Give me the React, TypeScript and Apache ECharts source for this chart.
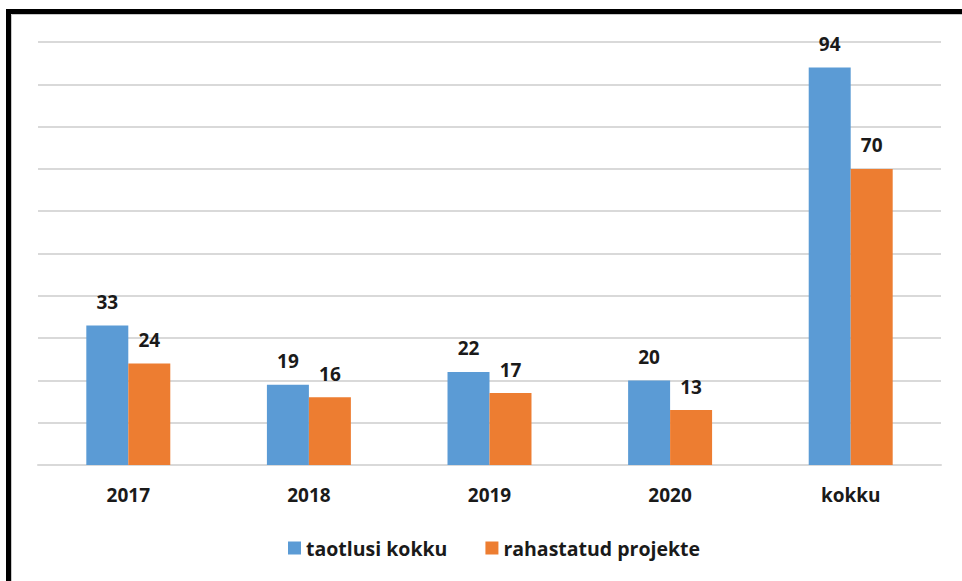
import React, { useEffect, useRef } from "react";
import * as echarts from "echarts";

const categories = ["2017", "2018", "2019", "2020", "kokku"];
const seriesNames = ["taotlusi kokku", "rahastatud projekte"];
const applications = [33, 19, 22, 20, 94];
const funded = [24, 16, 17, 13, 70];

const FONT = "'Open Sans', 'Noto Sans', sans-serif";

export default function App() {
  const ref = useRef<HTMLDivElement>(null);
  useEffect(() => {
    if (!ref.current) return;
    const chart = echarts.init(ref.current, null, { renderer: "svg" });
    const labelStyle = {
      show: true,
      position: "top" as const,
      distance: 14,
      fontFamily: FONT,
      fontWeight: "bold" as const,
      fontSize: 19,
      color: "#1a1a1a",
    };
    chart.setOption({
      animation: false,
      backgroundColor: "#ffffff",
      textStyle: { fontFamily: FONT },
      graphic: [
        {
          type: "rect",
          shape: { x: 8.5, y: 11.5, width: 1000, height: 1000 },
          style: { fill: "none", stroke: "#000000", lineWidth: 5 },
          silent: true,
        },
        {
          type: "rect",
          shape: { x: 11.5, y: 14.5, width: 1000, height: 1000 },
          style: { fill: "none", stroke: "#c8c8c8", lineWidth: 1 },
          silent: true,
        },
      ],
      grid: { left: 38, right: 21, top: 42, bottom: 116, containLabel: false },
      legend: {
        bottom: 18,
        left: 283,
        itemWidth: 13,
        itemHeight: 13,
        itemGap: 38,
        icon: "rect",
        textStyle: {
          fontFamily: FONT,
          fontWeight: "bold",
          fontSize: 19.5,
          color: "#1a1a1a",
          padding: [0, 0, 0, 0],
        },
        data: seriesNames,
      },
      xAxis: {
        type: "category",
        data: categories,
        axisLine: { show: true, lineStyle: { color: "#d9d9d9", width: 2 } },
        axisTick: { show: false },
        axisLabel: {
          margin: 20,
          fontFamily: FONT,
          fontWeight: "bold",
          fontSize: 19,
          color: "#1a1a1a",
        },
      },
      yAxis: {
        type: "value",
        min: 0,
        max: 100,
        interval: 10,
        axisLabel: { show: false },
        axisLine: { show: false },
        axisTick: { show: false },
        splitLine: { lineStyle: { color: "#d9d9d9", width: 2 } },
      },
      series: [
        {
          name: seriesNames[0],
          type: "bar",
          data: applications,
          itemStyle: { color: "#5b9bd5" },
          barGap: "0%",
          barCategoryGap: "53.5%",
          label: labelStyle,
        },
        {
          name: seriesNames[1],
          type: "bar",
          data: funded,
          itemStyle: { color: "#ed7d31" },
          barGap: "0%",
          barCategoryGap: "53.5%",
          label: labelStyle,
        },
      ],
    });
    return () => chart.dispose();
  }, []);
  return (
    <div
      ref={ref}
      style={{ position: "absolute", left: 0, top: 0, width: 962, height: 581 }}
    />
  );
}
